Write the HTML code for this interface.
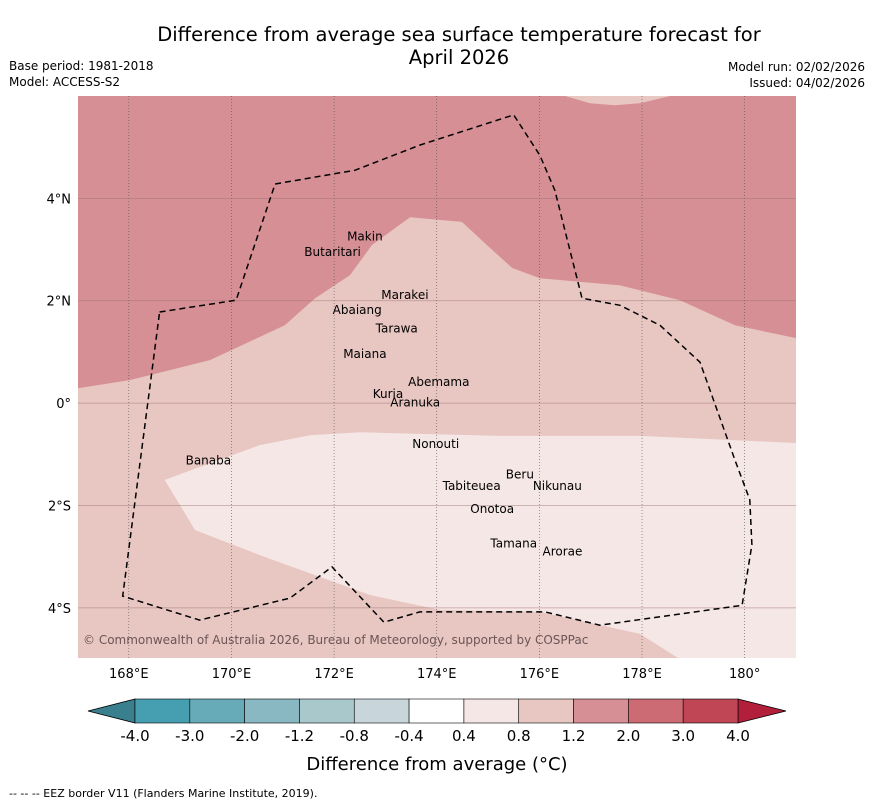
<!DOCTYPE html>
<html><head><meta charset="utf-8"><style>
body{margin:0;background:#fff;width:873px;height:804px;overflow:hidden;font-family:"Liberation Sans","DejaVu Sans",sans-serif}
svg text{font-family:"DejaVu Sans","Liberation Sans",sans-serif}
</style></head><body>
<svg id="c" width="873" height="804" xmlns="http://www.w3.org/2000/svg">
<text x="459" y="41" text-anchor="middle" font-size="19.5">Difference from average sea surface temperature forecast for</text>
<text x="459" y="64" text-anchor="middle" font-size="19.5">April 2026</text>
<text x="9" y="70" font-size="12">Base period: 1981-2018</text>
<text x="9" y="86" font-size="12">Model: ACCESS-S2</text>
<text x="865" y="71" font-size="12" text-anchor="end">Model run: 02/02/2026</text>
<text x="865" y="87" font-size="12" text-anchor="end">Issued: 04/02/2026</text>
<g id="map"></g>
<g id="cb"></g>
<text x="437" y="770" text-anchor="middle" font-size="18">Difference from average (°C)</text>
<text x="9" y="797" font-size="11">--  --  -- EEZ border V11 (Flanders Marine Institute, 2019).</text>
</svg>
<script>
const lonTicks=[168,170,172,174,176,178,180];
const latTicks=[4,2,0,-2,-4];
const latLabels=["4°N","2°N","0°","2°S","4°S"];
const contourMid=[[167.01,0.29],[168.02,0.45],[169.58,0.84],[171.04,1.52],[171.63,2.05],[172.31,2.5],[172.74,3.09],[173.48,3.63],[174.49,3.54],[175.04,3.03],[175.47,2.64],[176.01,2.44],[177.57,2.3],[178.74,2.01],[179.81,1.52],[181,1.27],[181,-4.98],[167.01,-4.98]];
const contourLow=[[168.7,-1.5],[170.55,-0.82],[171.53,-0.63],[172.5,-0.57],[175.23,-0.64],[177.96,-0.64],[181,-0.78],[181,-4.98],[178.7,-4.98],[177.96,-4.51],[176.01,-4.08],[174.06,-4.04],[172.7,-3.75],[170.55,-2.97],[169.29,-2.48]];
const contourTop=[[176.5,6],[176.99,5.86],[177.47,5.82],[177.96,5.86],[178.55,6]];
const eez=[[168.6,1.78],[170.09,2.01],[170.85,4.28],[172.41,4.55],[173.67,5.04],[175.5,5.63],[176.01,4.84],[176.3,4.16],[176.83,2.05],[177.57,1.91],[178.35,1.52],[179.13,0.8],[179.81,-1.11],[180.1,-1.89],[180.14,-2.77],[179.95,-3.95],[177.18,-4.34],[176.11,-4.08],[173.67,-4.08],[172.97,-4.28],[171.96,-3.2],[171.14,-3.81],[169.38,-4.24],[167.88,-3.77],[168.6,1.78]];
const islands=[["Makin",172.6,3.18],["Butaritari",171.97,2.87],["Marakei",173.38,2.03],["Abaiang",172.45,1.74],["Tarawa",173.22,1.38],["Maiana",172.6,0.88],["Abemama",174.04,0.33],["Kuria",173.05,0.1],["Aranuka",173.58,-0.07],["Nonouti",173.98,-0.88],["Banaba",169.55,-1.2],["Tabiteuea",174.68,-1.7],["Beru",175.62,-1.47],["Nikunau",176.35,-1.7],["Onotoa",175.08,-2.15],["Tamana",175.5,-2.82],["Arorae",176.45,-2.98]];
const cbBounds=["-4.0","-3.0","-2.0","-1.2","-0.8","-0.4","0.4","0.8","1.2","2.0","3.0","4.0"];
const cbColors=["#459fb0","#67aab8","#89b8c3","#a8c8cc","#c8d6db","#ffffff","#f5e7e5","#e8c7c2","#d68f95","#cd6b74","#c04555"];
const X0=78,X1=796,Y0=96,Y1=658,LON0=167.01,LON1=181.0,LAT0=6.0,LAT1=-4.98;
const x=l=>X0+(l-LON0)/(LON1-LON0)*(X1-X0);
const y=l=>Y0+(l-LAT0)/(LAT1-LAT0)*(Y1-Y0);
const NS="http://www.w3.org/2000/svg";
function mk(t,a,p){const e=document.createElementNS(NS,t);for(const k in a)e.setAttribute(k,a[k]);p.appendChild(e);return e;}
const map=document.getElementById('map');
const clip=mk('clipPath',{id:'cl'},map);mk('rect',{x:X0,y:Y0,width:X1-X0,height:Y1-Y0},clip);
const g=mk('g',{'clip-path':'url(#cl)'},map);
const bg=mk('rect',{x:X0,y:Y0,width:X1-X0,height:Y1-Y0,fill:'#d68f95'},g);


const pts=a=>a.map(p=>x(p[0]).toFixed(1)+','+y(p[1]).toFixed(1)).join(' ');
let p=mk('polygon',{points:pts(contourMid),fill:'#e8c7c2'},g);


p=mk('polygon',{points:pts(contourLow),fill:'#f5e7e5'},g);


p=mk('polygon',{points:pts(contourTop.concat([[178.55,6.2],[176.5,6.2]])),fill:'#e8c7c2'},g);


lonTicks.forEach(l=>{
 const ln=mk('line',{x1:x(l),x2:x(l),y1:Y0,y2:Y1,stroke:'#555','stroke-width':0.6,'stroke-dasharray':'1,2'},g);
 
 
 const t=mk('text',{x:x(l),y:678,'text-anchor':'middle','font-size':13},map);
 t.textContent=(l===180?'180°':l+'°E');
 
 
});
latTicks.forEach((l,i)=>{
 const ln=mk('line',{x1:X0,x2:X1,y1:y(l),y2:y(l),stroke:'#9a7070','stroke-width':0.8,'stroke-opacity':0.6},g);
 
 
 const t=mk('text',{x:71,y:y(l)+5,'text-anchor':'end','font-size':13},map);
 t.textContent=latLabels[i];
 
 
});
const e=mk('polyline',{points:pts(eez),fill:'none',stroke:'#000','stroke-width':1.5,'stroke-dasharray':'6,4'},g);


islands.forEach(d=>{
 const t=mk('text',{x:x(d[1]),y:y(d[2]),'text-anchor':'middle','font-size':12},g);
 t.textContent=d[0];
 
 
});
const cr=mk('text',{x:83,y:644,'font-size':12,fill:'#6b5555'},g);
cr.textContent='© Commonwealth of Australia 2026, Bureau of Meteorology, supported by COSPPac';


const cb=document.getElementById('cb');
const CB0=135,CB1=738,CY=699,CH=24,n=cbColors.length,w=(CB1-CB0)/n;
const lt=mk('polygon',{points:`${CB0},${CY} ${CB0},${CY+CH} 88,${CY+CH/2}`,fill:'#3a7f8d',stroke:'#000','stroke-width':0.8},cb);


const rt=mk('polygon',{points:`${CB1},${CY} ${CB1},${CY+CH} 786,${CY+CH/2}`,fill:'#b21f3b',stroke:'#000','stroke-width':0.8},cb);


cbColors.forEach((c,i)=>{
 const r=mk('rect',{x:CB0+i*w,y:CY,width:w,height:CH,fill:c,stroke:'#000','stroke-width':0.6},cb);
 
 
});
cbBounds.forEach((b,i)=>{
 const t=mk('text',{x:CB0+i*w,y:741,'text-anchor':'middle','font-size':15},cb);
 t.textContent=b;
 
 
});
</script>
</body></html>
